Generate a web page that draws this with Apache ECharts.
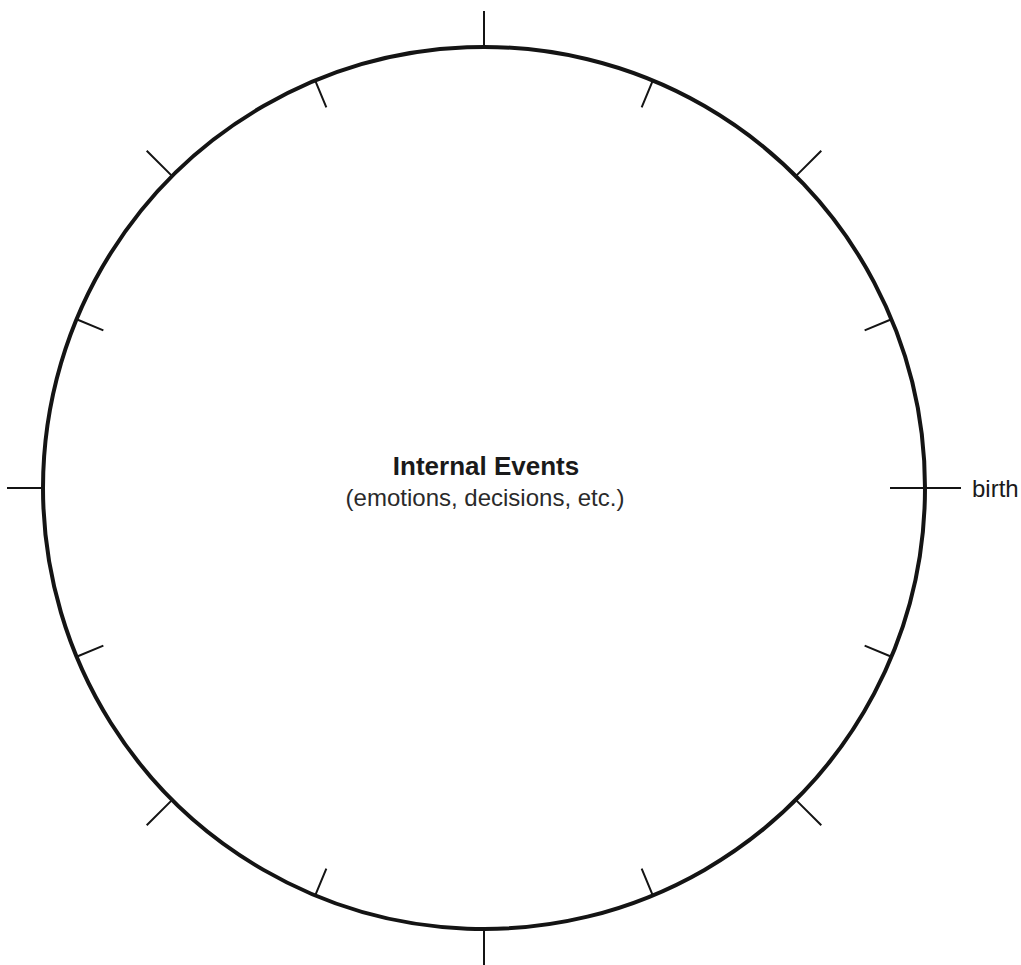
<!DOCTYPE html>
<html>
<head>
<meta charset="utf-8">
<script src="https://cdn.jsdelivr.net/npm/echarts@6/dist/echarts.min.js"></script>
<style>
html,body{margin:0;padding:0;background:#fff;}
#chart{width:1021px;height:965px;}
</style>
</head>
<body>
<div id="chart"></div>
<script>
// ---- data ----
const titleLines = ['Internal Events', '(emotions, decisions, etc.)'];
const angleLabels = { 0: 'birth' };          // label shown at angle (degrees)
const outerTickStart = 0, outerTickStep = 45;   // ticks pointing outward
const innerTickStart = 22.5, innerTickStep = 45; // ticks pointing inward
const startTickValues = [0];                      // inward tick at birth

const CX = 484, CY = 488, R = 441;
const INK = '#141414';

function hiddenRadius(i) {
  return { polarIndex: i, type: 'value', min: 0, max: 1, show: false,
           axisLine: {show:false}, axisTick:{show:false}, axisLabel:{show:false}, splitLine:{show:false} };
}

const option = {
  backgroundColor: '#fff',
  animation: false,
  polar: [
    { center: [CX, CY], radius: R },
    { center: [CX, CY], radius: R },
    { center: [CX, CY], radius: R }
  ],
  radiusAxis: [hiddenRadius(0), hiddenRadius(1), hiddenRadius(2)],
  angleAxis: [
    {
      polarIndex: 0, type: 'value', min: outerTickStart, max: outerTickStart + 360,
      interval: outerTickStep, startAngle: outerTickStart, clockwise: false,
      axisLine: { show: true, lineStyle: { color: INK, width: 4 } },
      axisTick: { show: true, inside: false, length: 36, lineStyle: { color: INK, width: 2 } },
      axisLabel: {
        show: true, margin: 47, color: '#1a1a1a', fontFamily: 'Liberation Sans, Arial, sans-serif',
        fontSize: 24,
        formatter: v => (v === 0 ? angleLabels[0] : '')
      },
      splitLine: { show: false }, splitArea: { show: false }
    },
    {
      polarIndex: 1, type: 'value', min: innerTickStart, max: innerTickStart + 360,
      interval: innerTickStep, startAngle: innerTickStart, clockwise: false,
      axisLine: { show: false },
      axisTick: { show: true, inside: true, length: 29, lineStyle: { color: INK, width: 2 } },
      axisLabel: { show: false },
      splitLine: { show: false }, splitArea: { show: false }
    },
    {
      polarIndex: 2, type: 'value', min: startTickValues[0], max: startTickValues[0] + 360,
      interval: 360, startAngle: startTickValues[0], clockwise: false,
      axisLine: { show: false },
      axisTick: { show: true, inside: true, length: 35, lineStyle: { color: INK, width: 2 } },
      axisLabel: { show: false },
      splitLine: { show: false }, splitArea: { show: false }
    }
  ],
  graphic: [
    {
      type: 'text', x: CX + 2, y: CY - 22,
      style: { text: titleLines[0], align: 'center', verticalAlign: 'middle',
               font: 'bold 26px "Liberation Sans", Arial, sans-serif', fill: '#1a1a1a' }
    },
    {
      type: 'text', x: CX + 1, y: CY + 9,
      style: { text: titleLines[1], align: 'center', verticalAlign: 'middle',
               font: '24px "Liberation Sans", Arial, sans-serif', fill: '#2a2a2a' }
    }
  ],
  series: []
};

const chart = echarts.init(document.getElementById('chart'), null, { renderer: 'svg' });
chart.setOption(option);
</script>
</body>
</html>
